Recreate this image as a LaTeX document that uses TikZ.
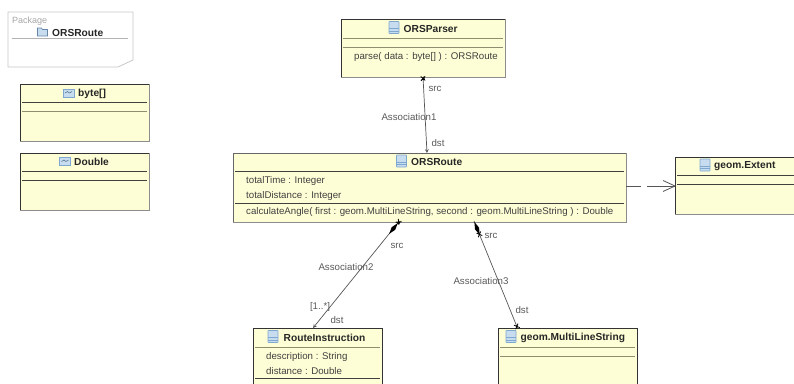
\documentclass[tikz,border=0pt]{standalone}
\usepackage{fontspec}
\setmainfont{Liberation Sans}
\usetikzlibrary{positioning, decorations.markings}
\definecolor{boxfill}{HTML}{FEFED6}
\definecolor{sepcol}{HTML}{8E8E70}
\definecolor{edgecol}{HTML}{555555}
\definecolor{iconblue}{HTML}{7FA8D0}
\definecolor{iconfill}{HTML}{C8DCF0}
\tikzset{>=stealth,
  umlbox/.style={draw=black!80, fill=boxfill, line width=.7pt, inner sep=0pt, outer sep=0pt, anchor=north west},
  title/.style={font=\fontsize{10.2}{12}\selectfont\bfseries, inner sep=0pt, text=black!85},
  member/.style={font=\fontsize{9.7}{11}\selectfont, inner sep=0pt, text=black!75, anchor=west},
  edgelabel/.style={font=\fontsize{9.7}{11}\selectfont, inner sep=0pt, text=black!65},
  sepline/.style={draw=black!75, line width=.6pt},
  sepdark/.style={draw=sepcol, line width=1pt},
  shadeline/.style={draw=black!45, line width=.8pt},
  assoc/.style={draw=edgecol, line width=.7pt},
  pics/classicon/.style={code={
    \draw[iconblue, fill=iconfill, line width=.6pt, rounded corners=.5pt] (-5,-6) rectangle (5,6);
    \draw[iconblue, line width=.6pt] (-5,1) -- (5,1) (-5,3.5) -- (5,3.5);}},
  pics/typeicon/.style={code={
    \draw[iconblue, fill=iconfill, line width=.6pt] (-5.5,-4) rectangle (5.5,4);
    \draw[iconblue!70!black, line width=.6pt] (-3.5,0) -- (-1,-1.5) -- (1,0) -- (3.5,-1.5);}},
  pics/folder/.style={code={
    \draw[iconblue!80!black, fill=iconfill, line width=.6pt] (-5,-4) -- (-1,-4) -- (0,-2.5) -- (5,-2.5) -- (5,4) -- (-5,4) -- cycle;}},
  % end marks of the associations, put on by markings
  xmark/.style={postaction={decorate, decoration={markings,
    mark=at position #1 with {\draw[black, line width=.8pt] (-2.2,-2.2) -- (2.2,2.2) (-2.2,2.2) -- (2.2,-2.2);}}}},
  dmark/.style={postaction={decorate, decoration={markings,
    mark=at position #1 with {\fill[black] (-7,0) -- (0,2.2) -- (7,0) -- (0,-2.2) -- cycle;}}}},
  openhead/.style={postaction={decorate, decoration={markings,
    mark=at position 1 with {\draw[edgecol, line width=.8pt, solid] (-12,-5.5) -- (0,0) -- (-12,5.5);}}}},
}

\begin{document}
\begin{tikzpicture}[x=1pt, y=-1pt]
\clip (0,0) rectangle (794,383);
% package
\draw[black!22, line width=.8pt] (8,12) -- (133,12) -- (133,60) -- (118,67) -- (8,67) -- cycle;
\draw[black!30, line width=.6pt] (12,38) -- (128,38);
\node[anchor=west, inner sep=0pt, text=black!35, font=\fontsize{9}{11}\selectfont] (pkglabel) at (12,21) {Package};
\node[title, anchor=west] (pkgname) at (52,33) {ORSRoute};
\pic at (42.5,32) {folder};
% boxes
\node[umlbox, minimum width=129pt, minimum height=57pt] (byte) at (20,84) {};
\node[umlbox, minimum width=129pt, minimum height=57pt] (double) at (20,153) {};
\node[umlbox, minimum width=164pt, minimum height=58pt] (ORSParser) at (341,19) {};
\node[umlbox, minimum width=393pt, minimum height=69pt, draw=black!60] (ORSRoute) at (233,153) {};
\node[umlbox, minimum width=130pt, minimum height=57pt] (Extent) at (675,157) {};
\node[umlbox, minimum width=129pt, minimum height=90pt] (RouteInstruction) at (253,328) {};
\node[umlbox, minimum width=139pt, minimum height=90pt] (MultiLineString) at (498,328) {};
\foreach \n in {byte,double,ORSParser,ORSRoute,Extent}
  \draw[shadeline] ([xshift=.8pt]\n.north east) -- ([xshift=.8pt,yshift=-.8pt]\n.south east) -- ([yshift=-.8pt]\n.south west);
% compartments
\foreach \xa/\xb/\ya in {22/147/102, 22/147/171, 22/147/180, 677/794/175, 677/794/184, 235/624/171, 235/624/203, 255/380/378}
  \draw[sepline] (\xa,\ya) -- (\xb,\ya);
\foreach \xa/\xb/\ya in {22/147/111, 343/503/38, 343/503/47, 255/380/347, 500/635/347, 500/635/356}
  \draw[sepdark] (\xa,\ya) -- (\xb,\ya);
% titles
\node[title, anchor=west] (bytetitle) at (78,93.5) {byte[]};
\pic at (68.5,93) {typeicon};
\node[title, anchor=west] (doubletitle) at (74,162) {Double};
\pic at (65,161.5) {typeicon};
\node[title, anchor=west] (parsertitle) at (403.5,28.5) {ORSParser};
\pic at (394,27.5) {classicon};
\node[title, anchor=west] (routetitle) at (411,162) {ORSRoute};
\pic at (401.5,161) {classicon};
\node[title, anchor=west] (extenttitle) at (714,166) {geom.Extent};
\pic at (705,165) {classicon};
\node[title, anchor=west] (instrtitle) at (283.5,338) {RouteInstruction};
\pic at (273,336.5) {classicon};
\node[title, anchor=west] (linetitle) at (520.5,338) {geom.MultiLineString};
\pic at (511,336.5) {classicon};
% members
\node[member] (parsemeth) at (354,57) {parse( data : byte[] ) : ORSRoute};
\node[member] (tottime) at (246,181) {totalTime : Integer};
\node[member] (totdist) at (246,195.5) {totalDistance : Integer};
\node[member] (calcmeth) at (246,212) {calculateAngle( first : geom.MultiLineString, second : geom.MultiLineString ) : Double};
\node[member] (descattr) at (266,356.5) {description : String};
\node[member] (distattr) at (266,371) {distance : Double};
% connectors
\draw[assoc, xmark=0.02, ->] (ORSParser.south) -- ([xshift=-2.5pt]ORSRoute.north);
\draw[assoc, xmark=0.01, dmark=0.07, ->] ([xshift=-30pt,yshift=1pt]ORSRoute.south) -- ([xshift=-4.5pt]RouteInstruction.north);
\draw[assoc, dmark=0.07, xmark=0.125, xmark=0.985] ([xshift=44.5pt,yshift=1pt]ORSRoute.south) -- ([xshift=-50pt]MultiLineString.north);
\draw[assoc, dash pattern=on 15pt off 6pt on 30pt off 0pt, openhead] ([yshift=1.5pt]ORSRoute.east) -- ([yshift=-.5pt]Extent.west);
% edge labels
\node[edgelabel] (src1) at (435,89) {src};
\node[edgelabel] (dst1) at (438,143) {dst};
\node[edgelabel] (assoc1) at (409,117) {Association1};
\node[edgelabel] (src2) at (397,245.5) {src};
\node[edgelabel] (assoc2) at (346,267) {Association2};
\node[edgelabel] (mult2) at (320,307) {[1..*]};
\node[edgelabel] (dst2) at (337,320) {dst};
\node[edgelabel] (src3) at (491,235.5) {src};
\node[edgelabel] (assoc3) at (481,281) {Association3};
\node[edgelabel] (dst3) at (522,310) {dst};
\end{tikzpicture}
\end{document}
